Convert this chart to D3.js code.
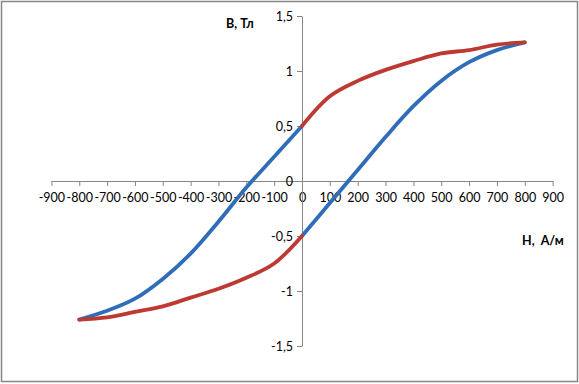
<!DOCTYPE html>
<html><head><meta charset="utf-8">
<script src="https://cdn.jsdelivr.net/npm/d3@7"></script>
<style>body{margin:0;background:#fff}svg{display:block}text{font-family:Lato,"Open Sans",sans-serif}</style>
</head><body>
<svg id="c" width="579" height="384"></svg>
<script>
const xTicks = [-900,-800,-700,-600,-500,-400,-300,-200,-100,0,100,200,300,400,500,600,700,800,900];
const yTicks = [-1.5,-1,-0.5,0,0.5,1,1.5];
const yTickLabels = ["-1,5","-1","-0,5","0","0,5","1","1,5"];
// blue branches
const blueRightH = [0,100,200,300,400,500,600,700,800];
const blueRightB = [-0.5,-0.2,0.1,0.4,0.68,0.91,1.08,1.19,1.26];
const blueLeftH = [0,-100,-200,-300,-400,-500,-600,-700,-800];
const blueLeftB = [0.5,0.22,-0.06,-0.37,-0.66,-0.89,-1.07,-1.18,-1.26];
// red branches
const redTopH = [0,100,200,300,400,500,600,700,800];
const redTopB = [0.5,0.77,0.91,1.01,1.09,1.16,1.19,1.24,1.26];
const redBotH = [0,-100,-200,-300,-400,-500,-600,-700,-800];
const redBotB = [-0.5,-0.75,-0.88,-0.98,-1.06,-1.14,-1.19,-1.24,-1.26];
const xTitle = "H,  А/м";
const yTitle = "B, Тл";

const svg = d3.select("#c");
svg.append("rect").attr("x",1.5).attr("y",1.5).attr("width",576).attr("height",380)
  .attr("fill","#fff").attr("stroke","#868686").attr("stroke-width",1.5);

const x = d3.scaleLinear().domain([-900,900]).range([51.4,552.6]);
const y = d3.scaleLinear().domain([-1.5,1.5]).range([346,16]);

const xAxis = d3.axisBottom(x).tickValues(xTicks).tickSize(5).tickSizeOuter(0).tickFormat(d=>d);
const gx = svg.append("g").attr("transform",`translate(0,${y(0)})`).call(xAxis);
gx.select(".domain").attr("stroke","#868686");
gx.selectAll(".tick line").attr("stroke","#868686");
gx.selectAll(".tick text").attr("fill","#000").attr("font-size",12.5).attr("y",12).attr("font-family","Lato");

const yAxis = d3.axisLeft(y).tickValues(yTicks).tickSize(5).tickSizeOuter(0)
  .tickFormat((d,i)=>yTickLabels[i]);
const gy = svg.append("g").attr("transform",`translate(${x(0)},0)`).call(yAxis);
gy.select(".domain").attr("stroke","#868686");
gy.selectAll(".tick line").attr("stroke","#868686");
gy.selectAll(".tick text").attr("fill","#000").attr("font-size",12.5).attr("x",-9).attr("font-family","Lato");

const line = d3.line().x(d=>x(d[0])).y(d=>y(d[1])).curve(d3.curveCatmullRom.alpha(0.5));
function draw(H,B,color){
  svg.append("path").datum(H.map((h,i)=>[h,B[i]])).attr("d",line)
    .attr("fill","none").attr("stroke",color).attr("stroke-width",3.8).attr("stroke-linecap","round");
}
draw(blueRightH,blueRightB,"#2F6DB9");
draw(blueLeftH,blueLeftB,"#2F6DB9");
draw(redTopH,redTopB,"#BD3A33");
draw(redBotH,redBotB,"#BD3A33");

svg.append("text").attr("x",226).attr("y",28).attr("font-size",12.5).attr("font-weight","bold").text(yTitle);
svg.append("text").attr("x",522).attr("y",245).attr("font-size",12.5).attr("font-weight","bold").attr("xml:space","preserve").style("white-space","pre").text(xTitle);
</script>
</body></html>
